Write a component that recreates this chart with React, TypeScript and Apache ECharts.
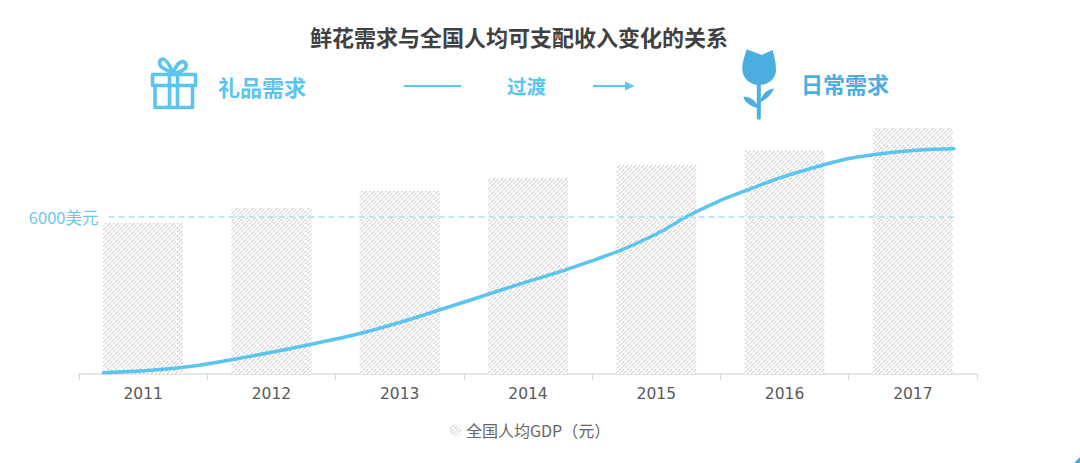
import { useEffect, useRef } from 'react';
import type { FC } from 'react';
import * as echarts from 'echarts';

const years = ['2011', '2012', '2013', '2014', '2015', '2016', '2017'];
const gdpValues = [5763, 6336, 6985, 7481, 7977, 8550, 9390];
// 曲线的点不在类目中心，所以用 [年份, 数值]
const curveX = [
  2010.69, 2011.25, 2011.72, 2012.32, 2012.83, 2013.43, 2013.84, 2014.48, 2014.97, 2015.29, 2015.71, 2016.22,
  2016.69, 2017.32,
];
const curveY = [50, 218, 573, 1145, 1729, 2634, 3283, 4287, 5267, 6145, 7023, 7863, 8371, 8600];
const thresholdValue = 6000;
const thresholdLabel = '6000美元';
const thresholdSpan = [2010.73, 2017.35];
const legendName = '全国人均GDP（元）';
const titleText = '鲜花需求与全国人均可支配收入变化的关系';

const BLUE = '#5ac5ef';
const DARK_BLUE = '#4aaee0';
const CJK = '"Noto Sans CJK SC", sans-serif';

const GIFT_PATH =
  'M152.5 74.5H195.5V85.5H152.5Z M155 86V107.5H192.5V86 M169.5 74V108 M177.5 74V108 ' +
  'M173 73C170 66 166 58.5 162.5 59C158 60 159 66 163 68C166 70 170 72 173 73 ' +
  'M173 73C175 68 179 61 183 61.5C187.5 63 187 68 183 70C180 72 176 73 173 73';
const TULIP_PATH =
  'M746.7 49.3L761.7 55L772.7 50C774 56 776 62 776 70C776 79 768 85 759 85C750 85 742.3 78 742.3 69C742.3 62 745 55 746.7 49.3Z ' +
  'M756.8 85H760.8V118.5Q758.8 121 756.8 118.5Z ' +
  'M760 101C763 93 768 89 774 88.5C771 95 766 100 760 102Z ' +
  'M757 108C751 106 745 103 743.3 97C749 96 755 100 757 105Z';

echarts.graphic.registerShape('giftIcon', echarts.graphic.extendPath(GIFT_PATH, {}));
echarts.graphic.registerShape('tulipIcon', echarts.graphic.extendPath(TULIP_PATH, {}));

// 斜线纹理：decal 旋转后有接缝，直接画一张 8x8 的小图
const hatchTile = () => {
  const tile = document.createElement('canvas');
  tile.width = 8;
  tile.height = 8;
  const ctx = tile.getContext('2d')!;
  ctx.fillStyle = '#fff';
  ctx.fillRect(0, 0, 8, 8);
  for (let y = 0; y < 8; y++) {
    for (let x = 0; x < 8; x++) {
      const stripe = (x + y) % 4;
      if (stripe === 0 && (x - y + 16) % 8 !== 0) {
        ctx.fillStyle = '#c6c6c6';
        ctx.fillRect(x, y, 1, 1);
      } else if (stripe === 1) {
        ctx.fillStyle = '#f3f3f3';
        ctx.fillRect(x, y, 1, 1);
      }
    }
  }
  return tile;
};

const label = (text: string, x: number, y: number, fontSize: number, fill: string) => ({
  type: 'text',
  style: {
    text,
    x,
    y,
    fill,
    fontSize,
    fontWeight: 'bold',
    fontFamily: CJK,
    textAlign: 'left',
    textVerticalAlign: 'middle',
  },
});

const App: FC = () => {
  const box = useRef<HTMLDivElement>(null);

  useEffect(() => {
    if (!box.current) return;
    const chart = echarts.init(box.current, undefined, { renderer: 'svg' });
    chart.setOption({
      animation: false,
      backgroundColor: '#fff',
      title: {
        text: titleText,
        left: 514,
        top: 20,
        textAlign: 'center',
        textStyle: { color: '#404040', fontSize: 22, fontWeight: 'bold', fontFamily: CJK },
      },
      legend: {
        data: [legendName],
        left: 444,
        top: 417,
        itemWidth: 12,
        itemHeight: 11,
        itemGap: 2,
        textStyle: { color: '#666', fontSize: 16, fontFamily: CJK },
      },
      grid: { left: 79, right: 103, top: 112, bottom: 89 },
      xAxis: [
        {
          type: 'category',
          data: years,
          axisLine: { lineStyle: { color: '#e6e6e6', width: 2 } },
          axisTick: { show: true, length: 6, lineStyle: { color: '#d8d8d8' } },
          axisLabel: { color: '#595959', fontSize: 15.5, margin: 12, fontFamily: '"DejaVu Sans", sans-serif' },
        },
        { type: 'value', min: 2010.5, max: 2017.5, show: false },
      ],
      yAxis: { type: 'value', min: 0, max: 10000, show: false },
      series: [
        {
          name: legendName,
          type: 'bar',
          barWidth: 80,
          data: gdpValues,
          itemStyle: {
            color: { image: hatchTile(), repeat: 'repeat' },
          },
        },
        {
          type: 'line',
          xAxisIndex: 1,
          data: curveX.map((x, i) => [x, curveY[i]]),
          smooth: 0.5,
          symbol: 'none',
          lineStyle: { color: BLUE, width: 3.5, cap: 'round' },
          markLine: {
            silent: true,
            symbol: 'none',
            lineStyle: { color: '#a6e1f6', type: [6, 4], width: 1.5 },
            label: {
              position: 'start',
              distance: 10,
              formatter: thresholdLabel,
              color: '#6cc8ef',
              fontSize: 16.5,
              fontFamily: CJK,
            },
            data: [
              [
                { coord: [thresholdSpan[0], thresholdValue] },
                { coord: [thresholdSpan[1], thresholdValue] },
              ],
            ],
          },
        },
      ],
      graphic: [
        { type: 'giftIcon', x: 0, y: 0, style: { fill: 'none', stroke: BLUE, lineWidth: 3.6, lineJoin: 'round' } },
        { type: 'tulipIcon', x: 0, y: 0, style: { fill: DARK_BLUE } },
        label('礼品需求', 218, 86, 22, BLUE),
        label('过渡', 507, 85, 19.5, BLUE),
        label('日常需求', 801, 83, 22, DARK_BLUE),
        { type: 'line', shape: { x1: 404, y1: 86, x2: 461, y2: 86 }, style: { stroke: BLUE, lineWidth: 2 } },
        { type: 'line', shape: { x1: 593, y1: 86, x2: 626, y2: 86 }, style: { stroke: BLUE, lineWidth: 2 } },
        { type: 'polygon', shape: { points: [[625, 81.5], [634.5, 86], [625, 90.5]] }, style: { fill: BLUE } },
        { type: 'polygon', shape: { points: [[1080, 457], [1080, 463], [1074, 463]] }, style: { fill: DARK_BLUE } },
      ],
    });

    return () => {
      chart.dispose();
    };
  }, []);

  return <div ref={box} style={{ position: 'absolute', left: 0, top: 0, width: 1080, height: 463 }} />;
};

export default App;
